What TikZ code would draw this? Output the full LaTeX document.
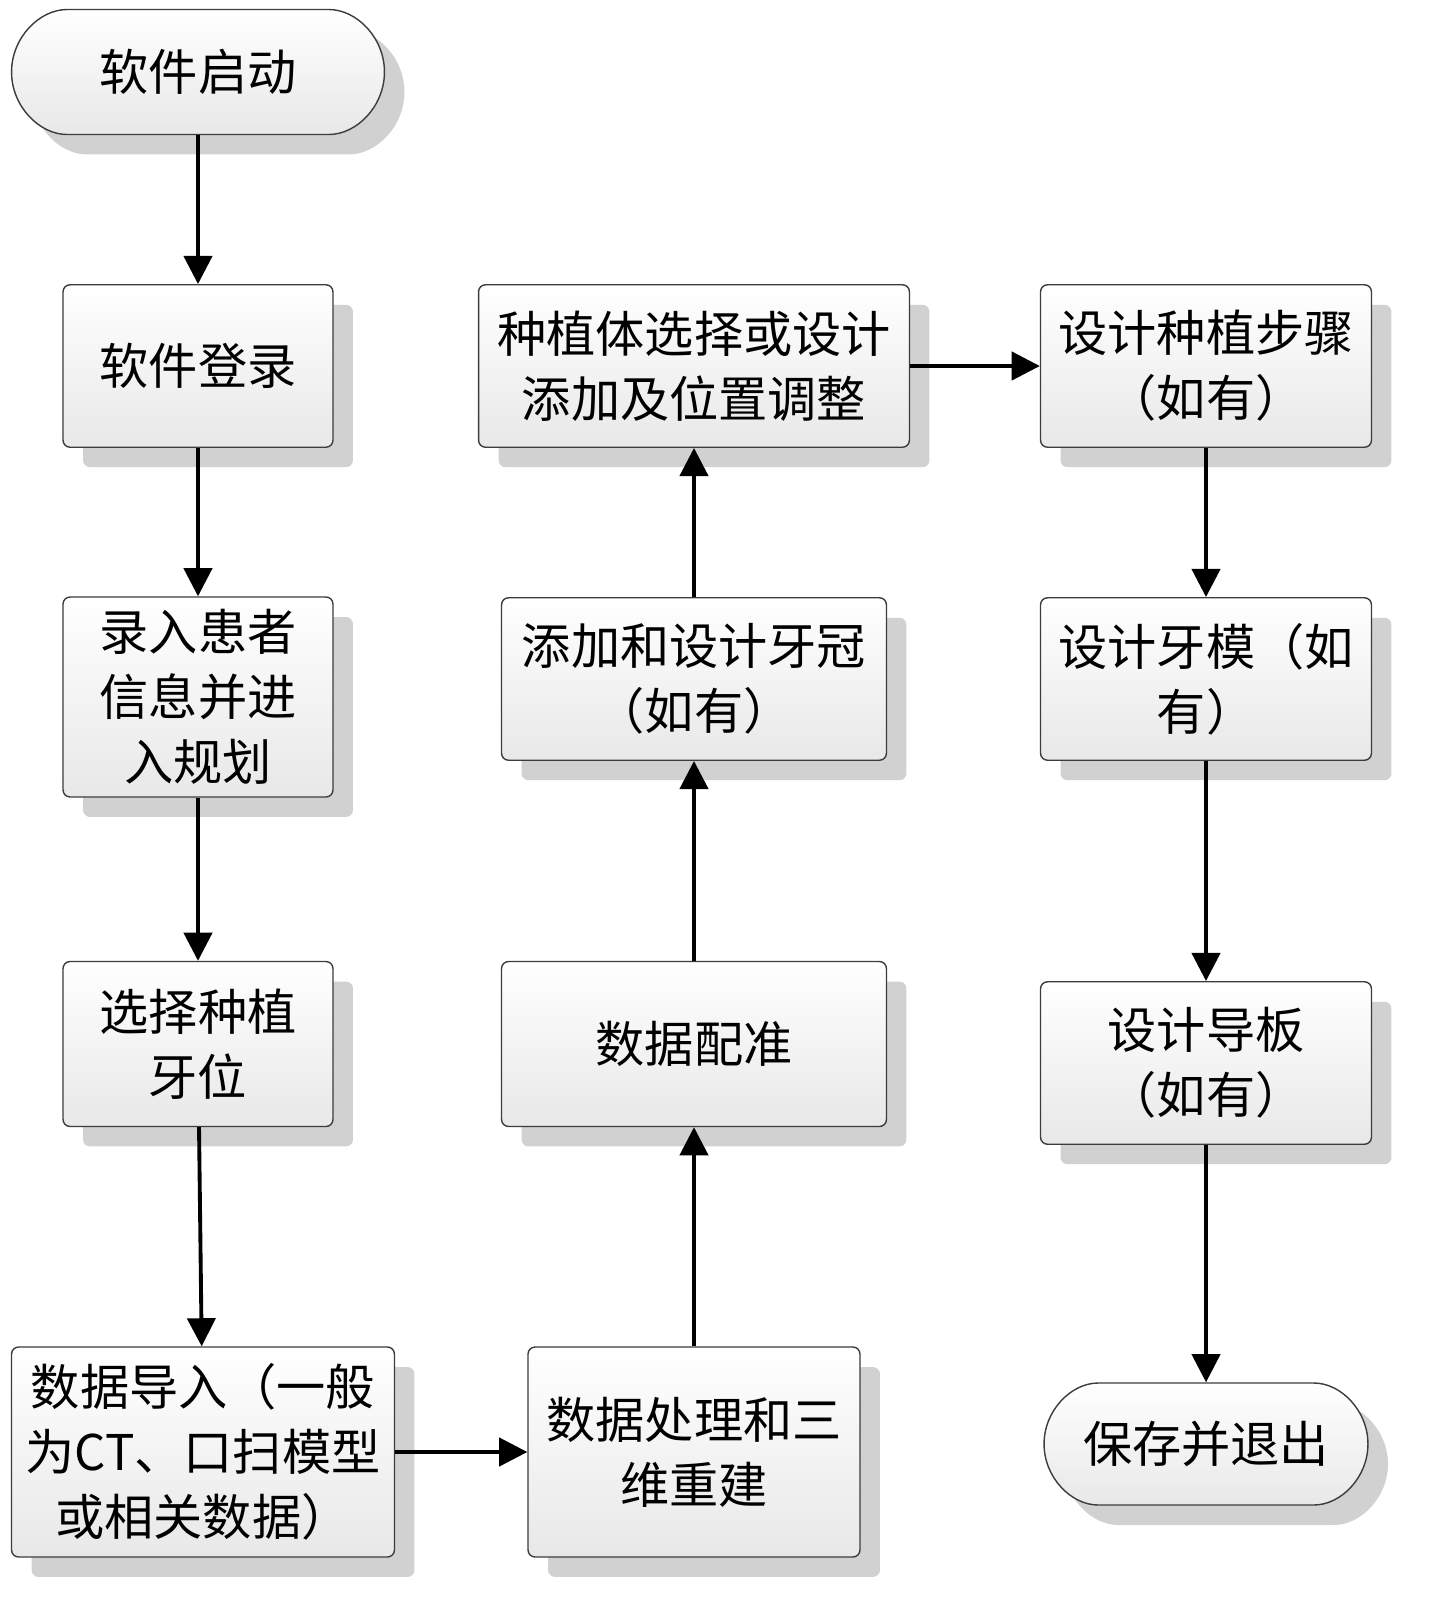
\documentclass[tikz,border=0pt]{standalone}
\usepackage{fontspec}
\newfontfamily\cjk{Noto Sans CJK SC}
\usetikzlibrary{arrows.meta,shadows,shapes.misc}
\definecolor{rand}{RGB}{60,60,60}

\tikzset{
  box/.style={draw=rand, thick, rounded corners=4pt, top color=white, bottom color=gray!18,
    drop shadow={shadow xshift=0.4cm, shadow yshift=-0.4cm, fill=gray!60, opacity=0.6},
    align=center, font=\cjk\fontsize{28}{37}\selectfont, inner sep=2pt},
  term/.style={box, rounded rectangle},
  pfeil/.style={line width=2.2pt, -{Triangle[length=16pt,width=16pt]}}
}

\begin{document}
\begin{tikzpicture}[x=0.02cm, y=-0.02cm]
  \useasboundingbox (0,0) rectangle (1438,1610);

  % linke Spalte
  \node[term, minimum width=7.6cm, minimum height=2.5cm] (start) at (198,72) {软件启动};
  \node[box, minimum width=5.4cm, minimum height=3.25cm] (login) at (198,366) {软件登录};
  \node[box, minimum width=5.4cm, minimum height=4cm] (patient) at (198,697) {录入患者\\信息并进\\入规划};
  \node[box, minimum width=5.4cm, minimum height=3.3cm] (select) at (198,1044) {选择种植\\牙位};
  \node[box, minimum width=7.66cm, minimum height=4.2cm] (import) at (203,1452) {数据导入（一般\\为CT、口扫模型\\或相关数据）};

  % mittlere Spalte
  \node[box, minimum width=6.64cm, minimum height=4.2cm] (process) at (694,1452) {数据处理和三\\维重建};
  \node[box, minimum width=7.7cm, minimum height=3.3cm] (register) at (694,1044) {数据配准};
  \node[box, minimum width=7.7cm, minimum height=3.25cm] (crown) at (694,679) {添加和设计牙冠\\（如有）};
  \node[box, minimum width=8.62cm, minimum height=3.25cm] (implant) at (694,366) {种植体选择或设计\\添加及位置调整};

  % rechte Spalte
  \node[box, minimum width=6.62cm, minimum height=3.25cm] (steps) at (1206,366) {设计种植步骤\\（如有）};
  \node[box, minimum width=6.62cm, minimum height=3.25cm] (model) at (1206,679) {设计牙模（如\\有）};
  \node[box, minimum width=6.62cm, minimum height=3.25cm] (guide) at (1206,1063) {设计导板\\（如有）};
  \node[term, minimum width=6.62cm, minimum height=2.44cm] (save) at (1206,1444) {保存并退出};

  \draw[pfeil] (start) -- (login);
  \draw[pfeil] (login) -- (patient);
  \draw[pfeil] (patient) -- (select);
  \draw[pfeil] (select) -- (import);
  \draw[pfeil] (import) -- (process);
  \draw[pfeil] (process) -- (register);
  \draw[pfeil] (register) -- (crown);
  \draw[pfeil] (crown) -- (implant);
  \draw[pfeil] (implant) -- (steps);
  \draw[pfeil] (steps) -- (model);
  \draw[pfeil] (model) -- (guide);
  \draw[pfeil] (guide) -- (save);
\end{tikzpicture}
\end{document}
